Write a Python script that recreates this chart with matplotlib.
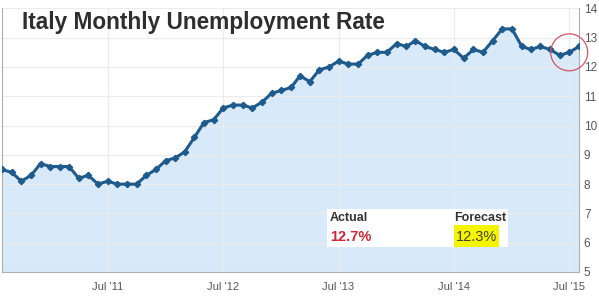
import matplotlib
matplotlib.use("Agg")
import matplotlib.pyplot as plt
import matplotlib.dates as mdates
from matplotlib.patches import Ellipse, Rectangle
import pandas as pd

plt.rcParams['font.family'] = ['Liberation Sans', 'DejaVu Sans']

title = "Italy Monthly Unemployment Rate"
months = pd.date_range("2010-08-01", "2015-08-01", freq="MS")
rate = [8.5, 8.4, 8.1, 8.3, 8.7,
        8.6, 8.6, 8.6, 8.2, 8.3, 8.0, 8.1, 8.0, 8.0, 8.0, 8.3, 8.5,
        8.8, 8.9, 9.1, 9.6, 10.1, 10.2, 10.6, 10.7, 10.7, 10.6, 10.8, 11.1,
        11.2, 11.3, 11.7, 11.5, 11.9, 12.0, 12.2, 12.1, 12.1, 12.4, 12.5, 12.5,
        12.8, 12.7, 12.9, 12.7, 12.6, 12.5, 12.6, 12.3, 12.6, 12.5, 12.9, 13.3,
        13.3, 12.7, 12.6, 12.7, 12.6, 12.4, 12.5, 12.7]
tick_dates = pd.to_datetime(["2011-07-01", "2012-07-01", "2013-07-01", "2014-07-01", "2015-07-01"])
tick_labels = ["Jul '11", "Jul '12", "Jul '13", "Jul '14", "Jul '15"]
y_ticks = [5, 6, 7, 8, 9, 10, 11, 12, 13, 14]
actual_label, actual_value = "Actual", "12.7%"
forecast_label, forecast_value = "Forecast", "12.3%"
highlight_date = pd.Timestamp("2015-07-01")
highlight_value = 12.5

W, H = 599, 296
fig = plt.figure(figsize=(W / 100, H / 100), dpi=100)
fig.patch.set_facecolor("white")
ax_l, ax_r, ax_t, ax_b = 2, 579, 8.4, 272
ax = fig.add_axes([ax_l / W, 1 - ax_b / H, (ax_r - ax_l) / W, (ax_b - ax_t) / H])

line_color = "#1e5b8c"
ax.fill_between(months, rate, 5, color="#d8e9f9", zorder=1)
ax.plot(months, rate, color=line_color, lw=2.2, marker="D", ms=3.2, zorder=3)

ax.set_xlim(months[0], months[-1])
ax.set_ylim(5, 14)
ax.set_xticks(tick_dates)
ax.set_xticklabels(tick_labels)
ax.set_yticks(y_ticks)
ax.yaxis.tick_right()
ax.tick_params(axis="both", length=0, labelsize=8, colors="#555555")
ax.tick_params(axis="y", pad=3.5, labelsize=8.5)
ax.tick_params(axis="x", pad=7)
ax.grid(True, color="#ebebeb", lw=0.8, zorder=0)
ax.spines["top"].set_visible(False)
for s in ["left", "right", "bottom"]:
    ax.spines[s].set_color("#b0b0b0")
    ax.spines[s].set_linewidth(0.8)

ax.text(0.034, 0.99, title, transform=ax.transAxes, ha="left", va="top",
        fontsize=16.3, fontweight="bold", color="#2e2e2e", zorder=5)

# info box
ax.add_patch(Rectangle((0.563, 0.095), 0.314, 0.144, transform=ax.transAxes,
                       facecolor="white", edgecolor="none", zorder=4))
ax.text(0.568, 0.205, actual_label, transform=ax.transAxes, ha="left", va="center",
        fontsize=9, fontweight="bold", color="#333333", zorder=5)
ax.text(0.568, 0.133, actual_value, transform=ax.transAxes, ha="left", va="center",
        fontsize=10.5, fontweight="bold", color="#c8283c", zorder=5)
ax.text(0.783, 0.205, forecast_label, transform=ax.transAxes, ha="left", va="center",
        fontsize=9, fontweight="bold", color="#333333", zorder=5)
ax.add_patch(Rectangle((0.783, 0.095), 0.078, 0.083, transform=ax.transAxes,
                       facecolor="#f4f400", edgecolor="none", zorder=4))
ax.text(0.786, 0.133, forecast_value, transform=ax.transAxes, ha="left", va="center",
        fontsize=10.5, color="#444422", zorder=5)

# highlight circle around the latest reading
cx, cy = ax.transData.transform((mdates.date2num(highlight_date), highlight_value))
fig.add_artist(Ellipse((cx / W, cy / H), 37 / W, 37 / H, transform=fig.transFigure,
                       facecolor="none", edgecolor="#cc5566", lw=0.9, zorder=10))

fig.savefig("out.png", dpi=100, facecolor="white")
